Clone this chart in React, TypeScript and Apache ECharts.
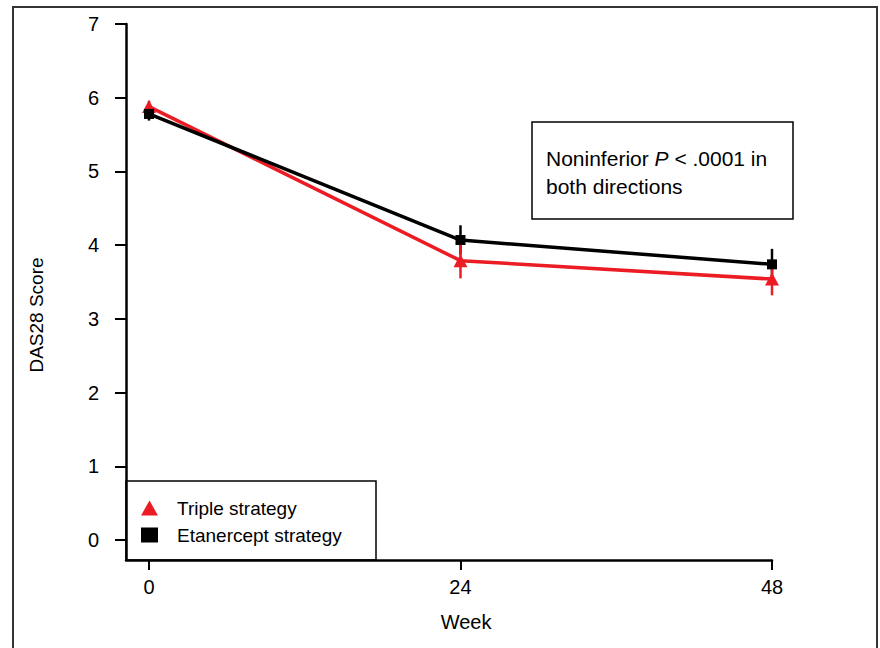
import React, { useEffect, useRef } from "react";
import * as echarts from "echarts";

const weeks = [0, 24, 48];
const tripleMean = [5.88, 3.79, 3.54];
const tripleLow = [5.8, 3.55, 3.32];
const tripleHigh = [5.96, 4.03, 3.76];
const etanMean = [5.78, 4.07, 3.74];
const etanLow = [5.69, 3.87, 3.53];
const etanHigh = [5.87, 4.27, 3.95];
const yTicks = [0, 1, 2, 3, 4, 5, 6, 7];
const xTicks = [0, 24, 48];
const seriesNames = ["Triple strategy", "Etanercept strategy"];

const FONT = "'Liberation Sans', Arial, Helvetica, sans-serif";
const RED = "#ec1c24";

function errorSeries(name: string, low: number[], high: number[], color: string) {
  return {
    type: "custom",
    name,
    silent: true,
    data: weeks.map((w, i) => [w, low[i], high[i]]),
    encode: { x: 0, y: [1, 2] },
    renderItem: (params: any, api: any) => {
      const p1 = api.coord([api.value(0), api.value(1)]);
      const p2 = api.coord([api.value(0), api.value(2)]);
      return {
        type: "line",
        shape: { x1: p1[0], y1: p1[1], x2: p2[0], y2: p2[1] },
        style: { stroke: color, lineWidth: 2.5 },
      };
    },
  };
}

export default function App() {
  const ref = useRef<HTMLDivElement>(null);
  useEffect(() => {
    document.body.style.margin = "0";
    const chart = echarts.init(ref.current!, null, { renderer: "svg" });
    chart.setOption({
      animation: false,
      textStyle: { fontFamily: FONT, color: "#000" },
      grid: { left: 126, right: 108, top: 24, bottom: 88 },
      xAxis: {
        type: "value",
        min: -1.77,
        max: 48,
        name: "Week",
        nameLocation: "middle",
        nameGap: 52,
        nameTextStyle: { fontSize: 20, fontFamily: FONT, color: "#000", padding: [0, 0, 0, 34] },
        axisLine: { onZero: false, lineStyle: { color: "#000", width: 2.5 } },
        axisTick: { show: true, customValues: xTicks, length: 10, lineStyle: { color: "#000", width: 2 } },
        axisLabel: { customValues: xTicks, fontSize: 20, fontFamily: FONT, color: "#000", margin: 17 },
        splitLine: { show: false },
      },
      yAxis: {
        type: "value",
        min: -0.27,
        max: 7,
        name: "DAS28 Score",
        nameLocation: "middle",
        nameGap: 80,
        nameTextStyle: { fontSize: 19, fontFamily: FONT, color: "#000", padding: [0, 46, 0, 0] },
        axisLine: { show: true, onZero: false, lineStyle: { color: "#000", width: 2.5 } },
        axisTick: { show: true, customValues: yTicks, length: 11, lineStyle: { color: "#000", width: 2 } },
        axisLabel: { customValues: yTicks, fontSize: 20, fontFamily: FONT, color: "#000", margin: 27 },
        splitLine: { show: false },
      },
      legend: {
        orient: "vertical",
        left: 141,
        top: 498,
        itemWidth: 17,
        itemHeight: 15,
        itemGap: 7,
        padding: 0,
        selectedMode: false,
        textStyle: { fontSize: 19, fontFamily: FONT, color: "#000", lineHeight: 20, padding: [0, 0, 0, 14] },
        data: [
          { name: seriesNames[0], icon: "triangle", itemStyle: { color: RED } },
          { name: seriesNames[1], icon: "rect", itemStyle: { color: "#000" } },
        ],
      },
      graphic: [
        {
          type: "rect",
          shape: { x: 13, y: 7, width: 864, height: 700 },
          style: { fill: "none", stroke: "#333", lineWidth: 2 },
          silent: true,
        },
        {
          type: "rect",
          shape: { x: 126, y: 481, width: 250, height: 79 },
          style: { fill: "#fff", stroke: "#000", lineWidth: 1.5 },
          z: 0,
          silent: true,
        },
        {
          type: "rect",
          shape: { x: 532, y: 122, width: 261, height: 97 },
          style: { fill: "#fff", stroke: "#000", lineWidth: 1.5 },
          silent: true,
        },
        {
          type: "text",
          x: 546,
          y: 144,
          style: {
            text: "Noninferior {i|P} < .0001 in\nboth directions",
            fontSize: 21,
            fontFamily: FONT,
            fill: "#000",
            lineHeight: 28,
            rich: {
              i: { fontStyle: "italic", fontSize: 21, fontFamily: FONT, fill: "#000", lineHeight: 28 },
            },
          },
          silent: true,
        },
      ],
      series: [
        errorSeries("etanErr", etanLow, etanHigh, "#000"),
        {
          type: "line",
          name: seriesNames[1],
          data: weeks.map((w, i) => [w, etanMean[i]]),
          symbol: "rect",
          symbolSize: 10,
          lineStyle: { color: "#000", width: 3.5 },
          itemStyle: { color: "#000" },
          z: 3,
        },
        errorSeries("tripleErr", tripleLow, tripleHigh, RED),
        {
          type: "line",
          name: seriesNames[0],
          data: weeks.map((w, i) => [w, tripleMean[i]]),
          symbol: "triangle",
          symbolSize: [14, 13],
          lineStyle: { color: RED, width: 3.5 },
          itemStyle: { color: RED },
          z: 2,
        },
      ],
    });
    return () => chart.dispose();
  }, []);
  return <div ref={ref} style={{ width: 880, height: 648 }} />;
}
